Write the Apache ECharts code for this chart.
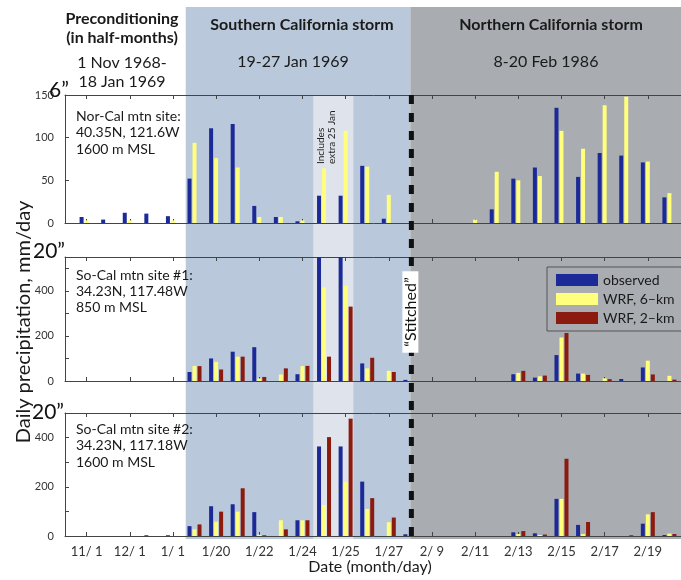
<!DOCTYPE html>
<html><head><meta charset="utf-8">
<script src="https://cdn.jsdelivr.net/npm/echarts@6/dist/echarts.min.js"></script>
<style>html,body{margin:0;padding:0;background:#fff}#c{width:681px;height:580px}</style>
</head><body><div id="c"></div>
<script>
// Category slots (half-months, then storm days)
const slots = ['11/ 1','11/15','12/ 1','12/15','1/ 1','1/19','1/20','1/21','1/22','1/23','1/24','1/25*','1/25','1/26','1/27','2/ 8','2/ 9','2/10','2/11','2/12','2/13','2/14','2/15','2/16','2/17','2/18','2/19','2/20'];
const tickLabels = ['11/ 1','12/ 1','1/ 1','1/20','1/22','1/24','1/25','1/27','2/ 9','2/11','2/13','2/15','2/17','2/19'];
const seriesNames = ['observed','WRF, 6\u2013km','WRF, 2\u2013km'];

// Panel 1: Nor-Cal mtn site
const obsNorCal  = [7,4,12,11,8,52,111,116,20,7,2,32,32,67,5,null,null,null,null,16,52,65,135,54,82,79,71,30];
const wrf6NorCal = [3,null,3,null,3,94,76,65,7,7,3,64,108,66,33,null,null,null,4,60,50,55,108,87,138,148,72,35];
const wrf2NorCal = [null,null,null,null,null,null,null,null,null,null,null,null,null,null,null,null,null,null,null,null,null,null,null,null,null,null,null,null];
// Panel 2: So-Cal mtn site #1
const obsSoCal1  = [null,null,null,null,null,40,100,130,150,null,30,580,570,78,null,5,null,null,null,null,30,15,115,33,null,9,60,null];
const wrf6SoCal1 = [null,null,null,null,null,67,85,108,11,29,66,415,422,56,45,null,null,null,null,null,36,21,193,33,12,null,90,23];
const wrf2SoCal1 = [null,null,null,null,null,66,51,108,18,56,67,108,330,103,40,null,null,null,null,null,45,24,213,27,8,null,29,6];
// Panel 3: So-Cal mtn site #2
const obsSoCal2  = [null,null,null,3,3,40,121,129,97,null,64,364,364,221,null,7,null,null,null,null,15,11,151,45,null,null,50,4];
const wrf6SoCal2 = [null,null,null,null,null,27,58,99,5,64,64,126,219,110,56,null,null,null,null,null,8,4,151,8,null,null,88,10];
const wrf2SoCal2 = [null,null,null,null,null,47,99,194,3,27,64,402,477,154,75,null,null,null,null,null,20,6,314,57,null,3,97,8];

const yMax = [150, 550, 500];
const yInterval = [50, 100, 100];

const panels = [
  [obsNorCal, wrf6NorCal, wrf2NorCal],
  [obsSoCal1, wrf6SoCal1, wrf2SoCal1],
  [obsSoCal2, wrf6SoCal2, wrf2SoCal2]
];
const colors = ['#1b2a96', '#ffff7c', '#8b1a0f'];
const FONT = 'Lato';

const cats = [''].concat(slots).concat([' ']);
const pad = a => [null].concat(a).concat([null]);
const tickFn = (i, v) => tickLabels.indexOf(v) >= 0;

const grids = [
  {left: 65, width: 626, top: 95, height: 128, outerBoundsMode: 'none', containLabel: false},
  {left: 65, width: 626, top: 257, height: 124, outerBoundsMode: 'none', containLabel: false},
  {left: 65, width: 626, top: 413, height: 123, outerBoundsMode: 'none', containLabel: false}
];

const xAxes = [];
const yAxes = [];
const series = [];
for (let p = 0; p < 3; p++) {
  const base = {
    type: 'category', gridIndex: p, data: cats, boundaryGap: false,
    axisLine: {show: true, lineStyle: {color: '#444', width: 1}},
    axisTick: {show: true, inside: true, length: 4, interval: tickFn, lineStyle: {color: '#444'}},
    splitLine: {show: false}
  };
  xAxes.push(Object.assign({}, base, {
    position: 'bottom',
    axisLabel: {show: p === 2, interval: tickFn, fontSize: 13, color: '#333', margin: 9, fontFamily: FONT}
  }));
  xAxes.push(Object.assign({}, base, {
    position: 'top',
    axisLabel: {show: false}
  }));
  yAxes.push({
    type: 'value', gridIndex: p, min: 0, max: yMax[p], interval: yInterval[p],
    axisLine: {show: true, lineStyle: {color: '#444'}},
    axisTick: {show: true, inside: true, length: 4, lineStyle: {color: '#444'}},
    axisLabel: {
      fontSize: 11, color: '#333', margin: 11, fontFamily: FONT,
      formatter: v => (p === 0 ? String(v) : (v % 200 === 0 ? String(v) : ''))
    },
    splitLine: {show: false}
  });
  for (let s = 0; s < 3; s++) {
    series.push({
      type: 'bar', name: seriesNames[s], xAxisIndex: p * 2, yAxisIndex: p,
      data: pad(panels[p][s]), barWidth: 4, barGap: '25%',
      itemStyle: {color: colors[s]}, clip: true
    });
  }
}

const chart = echarts.init(document.getElementById('c'), null, {renderer: 'canvas'});
chart.setOption({
  animation: false,
  textStyle: {fontFamily: FONT},
  grid: grids,
  xAxis: xAxes,
  yAxis: yAxes,
  legend: {
    data: seriesNames, orient: 'vertical', left: 547, top: 267,
    itemWidth: 42, itemHeight: 12, itemGap: 5, icon: 'rect',
    padding: [6, 9, 6, 9], backgroundColor: '#a9acb1',
    borderColor: '#555', borderWidth: 1, selectedMode: false,
    textStyle: {fontSize: 14, color: '#1a1a1a', fontFamily: FONT}
  },
  series: series
});

// positions derived from the category axis
const x0 = chart.convertToPixel({xAxisIndex: 4}, 0);
const band = chart.convertToPixel({xAxisIndex: 4}, 1) - x0;
const slotX = s => x0 + (s + 1) * band;

const blueL = slotX(4.5) + 2, stitchX = slotX(15);
const txt = (x, y, text, o) => ({
  type: 'text', x: x, y: y, z: 60, silent: true,
  style: Object.assign({text: text, fontFamily: FONT, fontSize: 14, fill: '#1a1a1a', align: 'left', verticalAlign: 'top'}, o || {})
});

chart.setOption({
  graphic: [
    {type: 'rect', z: -10, silent: true, shape: {x: blueL, y: 7, width: stitchX - blueL, height: 532}, style: {fill: '#b9c8da'}},
    {type: 'rect', z: -10, silent: true, shape: {x: stitchX, y: 7, width: 700 - stitchX, height: 532}, style: {fill: '#a9acb1'}},
    {type: 'rect', z: -9, silent: true, shape: {x: slotX(10.5), y: 95, width: slotX(12.5) - 3 - slotX(10.5), height: 444}, style: {fill: '#dfe4ec'}},
    {type: 'line', z: 50, silent: true, shape: {x1: stitchX + 1, y1: 95, x2: stitchX + 1, y2: 540}, style: {stroke: '#111', lineWidth: 5, lineDash: [9, 9]}},
    {type: 'text', z: 55, silent: true, x: stitchX, y: 312, rotation: Math.PI / 2,
      style: {text: '\u201cStitched\u201d', fontFamily: FONT, fontSize: 16, fill: '#111', align: 'center', verticalAlign: 'middle', backgroundColor: '#fff', padding: [0, 6], lineHeight: 16}},
    {type: 'text', z: 55, silent: true, x: slotX(11) - 9, y: 164, rotation: Math.PI / 2,
      style: {text: 'Includes\nextra 25 Jan', fontFamily: FONT, fontSize: 10, lineHeight: 11, fill: '#222', align: 'left', verticalAlign: 'top'}},
    // headers
    txt(122, 19, 'Preconditioning', {fontWeight: 'bold', fontSize: 16, align: 'center', verticalAlign: 'middle'}),
    txt(122, 38, '(in half-months)', {fontWeight: 'bold', fontSize: 16, align: 'center', verticalAlign: 'middle'}),
    txt(122, 63, '1 Nov 1968-', {fontSize: 16, align: 'center', verticalAlign: 'middle'}),
    txt(122, 82, '18 Jan 1969', {fontSize: 16, align: 'center', verticalAlign: 'middle'}),
    txt(302, 25, 'Southern California storm', {fontWeight: 'bold', fontSize: 16, align: 'center', verticalAlign: 'middle'}),
    txt(293, 62, '19-27 Jan 1969', {fontSize: 16, align: 'center', verticalAlign: 'middle'}),
    txt(551, 25, 'Northern California storm', {fontWeight: 'bold', fontSize: 16, align: 'center', verticalAlign: 'middle'}),
    txt(546, 62, '8-20 Feb 1986', {fontSize: 16, align: 'center', verticalAlign: 'middle'}),
    // panel annotations
    txt(76, 108, 'Nor-Cal mtn site:\n40.35N, 121.6W\n1600 m MSL', {lineHeight: 16.5}),
    txt(76, 267, 'So-Cal mtn site #1:\n34.23N, 117.48W\n850 m MSL', {lineHeight: 16}),
    txt(76, 421, 'So-Cal mtn site #2:\n34.23N, 117.18W\n1600 m MSL', {lineHeight: 16.5}),
    // inch markers
    txt(59, 90, '6\u201d', {fontSize: 21, align: 'center', verticalAlign: 'middle', fill: '#111'}),
    txt(49, 251, '20\u201d', {fontSize: 21, align: 'center', verticalAlign: 'middle', fill: '#111'}),
    txt(48, 412, '20\u201d', {fontSize: 21, align: 'center', verticalAlign: 'middle', fill: '#111'}),
    // axis titles
    {type: 'text', z: 60, silent: true, x: 24, y: 322, rotation: Math.PI / 2,
      style: {text: 'Daily precipitation, mm/day', fontFamily: FONT, fontSize: 20, fill: '#1a1a1a', align: 'center', verticalAlign: 'middle'}},
    txt(370, 567, 'Date (month/day)', {fontSize: 16, align: 'center', verticalAlign: 'middle'})
  ]
});
</script>
</body></html>
